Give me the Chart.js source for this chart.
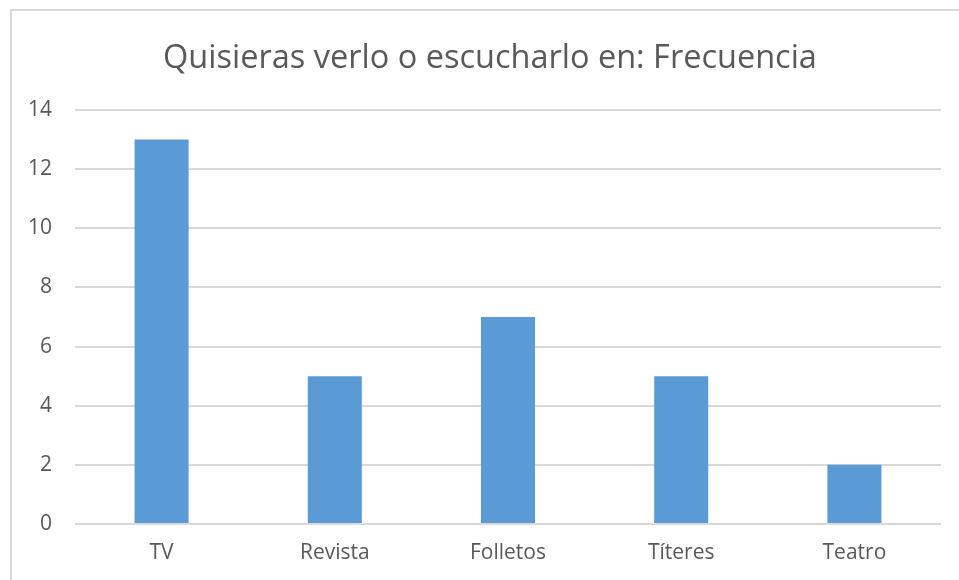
<!DOCTYPE html>
<html>
<head>
<meta charset="utf-8">
<script src="https://cdn.jsdelivr.net/npm/chart.js@4/dist/chart.umd.min.js"></script>
<style>
	html, body { margin: 0; padding: 0; background: #ffffff; }
	#grafica { display: block; }
</style>
</head>
<body>
<canvas id="grafica" width="959" height="580"></canvas>
<script>
// datos
var categorias = ["TV", "Revista", "Folletos", "Títeres", "Teatro"];
var frecuencias = [13, 5, 7, 5, 2];
var titulo = "Quisieras verlo o escucharlo en: Frecuencia";
var ticks_y = [0, 2, 4, 6, 8, 10, 12, 14];

var color_texto = "#595959";
var color_rejilla = "#d9d9d9";
var color_barra = "#5b9bd5";

// marco gris claro alrededor del grafico (como en Excel)
var pluginMarco = {
	id: 'marco',
	afterLayout: function (chart) {
		// el titulo de Excel va centrado sobre todo el marco, no sobre el area
		if (chart.titleBlock) chart.titleBlock.left = 39;
	},
	beforeDraw: function (chart) {
		var ctx = chart.ctx;
		ctx.save();
		ctx.fillStyle = "#ffffff";
		ctx.fillRect(0, 0, chart.width, chart.height);
		ctx.strokeStyle = color_rejilla;
		ctx.lineWidth = 2;
		ctx.beginPath();
		ctx.moveTo(11, chart.height + 5);
		ctx.lineTo(11, 10);
		ctx.lineTo(chart.width + 5, 10);
		ctx.stroke();
		ctx.restore();
	}
};

var contexto_canvas = document.getElementById('grafica').getContext('2d');

var grafica = new Chart(contexto_canvas, {
	type: 'bar',
	data: {
		labels: categorias,
		datasets: [{
			label: "Frecuencia",
			data: frecuencias,
			backgroundColor: color_barra,
			borderWidth: 0,
			barPercentage: 0.312,
			categoryPercentage: 1
		}]
	},
	plugins: [pluginMarco],
	options: {
		responsive: false,
		animation: false,
		layout: {
			padding: { left: 0, right: 18, top: 0, bottom: 0 }
		},
		plugins: {
			legend: { display: false },
			tooltip: { enabled: false },
			title: {
				display: true,
				text: titulo,
				color: color_texto,
				font: { family: "'Open Sans', 'Noto Sans', sans-serif", size: 32.5, weight: 'normal' },
				padding: { top: 39, bottom: 32 }
			}
		},
		scales: {
			x: {
				grid: { display: false, drawTicks: false },
				border: { display: false },
				ticks: {
					color: color_texto,
					font: { family: "'Open Sans', 'Noto Sans', sans-serif", size: 21 },
					padding: 16
				},
				afterFit: function (escala) { escala.height = 56; }
			},
			y: {
				min: 0,
				max: 14,
				afterBuildTicks: function (escala) {
					escala.ticks = ticks_y.map(function (v) { return { value: v }; });
				},
				grid: { color: color_rejilla, lineWidth: 2, drawTicks: false },
				border: { display: false },
				ticks: {
					color: color_texto,
					font: { family: "'Open Sans', 'Noto Sans', sans-serif", size: 21 },
					padding: 23
				},
				afterFit: function (escala) { escala.width = 75; }
			}
		}
	}
});
</script>
</body>
</html>
